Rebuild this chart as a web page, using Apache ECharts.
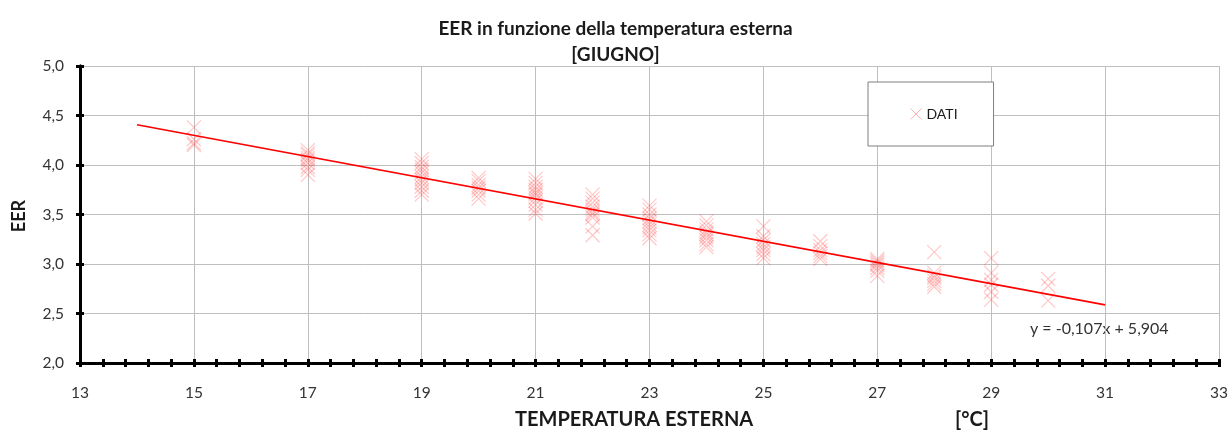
<!DOCTYPE html>
<html>
<head>
<meta charset="utf-8">
<script src="https://cdn.jsdelivr.net/npm/echarts@6/dist/echarts.min.js"></script>
<style>
  html, body { margin: 0; padding: 0; background: #fff; }
  #chart { width: 1231px; height: 432px; }
</style>
</head>
<body>
<div id="chart"></div>
<script>
// Measured EER values grouped by outdoor temperature (°C)
const temps = [15, 17, 19, 20, 21, 22, 23, 24, 25, 26, 27, 28, 29, 30];
const eerByTemp = [
  [4.38, 4.26, 4.22, 4.20],
  [4.15, 4.12, 4.10, 4.07, 4.05, 4.02, 3.98, 3.95, 3.90],
  [4.06, 4.02, 3.98, 3.95, 3.92, 3.88, 3.85, 3.82, 3.78, 3.74, 3.70],
  [3.87, 3.84, 3.80, 3.77, 3.74, 3.70, 3.66],
  [3.86, 3.82, 3.78, 3.75, 3.72, 3.70, 3.67, 3.64, 3.60, 3.55, 3.51],
  [3.70, 3.66, 3.62, 3.58, 3.55, 3.52, 3.50, 3.47, 3.38, 3.29],
  [3.59, 3.55, 3.50, 3.46, 3.43, 3.40, 3.37, 3.34, 3.30, 3.26],
  [3.43, 3.39, 3.35, 3.32, 3.30, 3.27, 3.24, 3.20, 3.17],
  [3.38, 3.28, 3.24, 3.20, 3.17, 3.14, 3.10, 3.06],
  [3.23, 3.18, 3.14, 3.11, 3.08, 3.05],
  [3.05, 3.03, 3.01, 2.99, 2.96, 2.93, 2.88],
  [3.12, 2.91, 2.88, 2.86, 2.83, 2.80, 2.77],
  [3.06, 2.91, 2.84, 2.79, 2.72, 2.64],
  [2.85, 2.78, 2.63]
];

// Linear trend line: y = -0,107x + 5,904, drawn from 14 to 31 °C
const slope = -0.107;
const intercept = 5.904;
const trendRange = [14, 31];

const titleLines = ['EER in funzione della temperatura esterna', '[GIUGNO]'];
const xTitle = 'TEMPERATURA ESTERNA';
const unitLabel = '[°C]';
const yTitle = 'EER';
const seriesName = 'DATI';

const points = [];
temps.forEach((t, i) => eerByTemp[i].forEach(v => points.push([t, v])));
const trend = trendRange.map(x => [x, slope * x + intercept]);
const fmt = n => n.toFixed(3).replace('.', ',');
const equation = 'y = ' + fmt(slope) + 'x + ' + fmt(intercept);

const FONT = 'Lato';
const crossPath = 'path://M0,0L10,10M10,0L0,10';

const chart = echarts.init(document.getElementById('chart'), null, { renderer: 'canvas' });

const xBase = {
  type: 'value', min: 13, max: 33, interval: 2, position: 'bottom',
  axisLine: { show: true, onZero: false, lineStyle: { color: '#000', width: 3 } },
  axisTick: { show: true, length: 4, lineStyle: { color: '#000', width: 3 } },
  minorTick: { show: true, splitNumber: 5, length: 4, lineStyle: { color: '#000', width: 3 } }
};
const yBase = {
  type: 'value', min: 2, max: 5, interval: 0.5, position: 'left',
  axisLine: { show: true, onZero: false, lineStyle: { color: '#000', width: 3 } },
  axisTick: { show: true, length: 4, lineStyle: { color: '#000', width: 3 } }
};

chart.setOption({
  animation: false,
  backgroundColor: '#fff',
  title: {
    text: titleLines.join('\n'),
    left: 'center', top: 11,
    textStyle: { fontFamily: FONT, fontWeight: 'bold', fontSize: 19, lineHeight: 26, color: '#1a1a1a' }
  },
  legend: {
    left: 868, top: 82,
    padding: [25, 36, 25, 42],
    borderColor: '#7f7f7f', borderWidth: 1, backgroundColor: '#fff',
    itemWidth: 11, itemHeight: 11, itemGap: 5,
    icon: crossPath,
    itemStyle: { color: 'transparent', borderColor: 'rgba(255,90,90,0.6)', borderWidth: 1 },
    textStyle: { fontFamily: FONT, fontSize: 14, color: '#1a1a1a' },
    data: [seriesName]
  },
  grid: { left: 80, right: 10, top: 66, bottom: 69, containLabel: false },
  xAxis: [
    Object.assign({}, xBase, {
      axisLabel: { margin: 22, fontFamily: FONT, fontSize: 15.5, color: '#333' },
      splitLine: { show: true, lineStyle: { color: '#bfbfbf', width: 1 } }
    }),
    Object.assign({}, xBase, {
      axisTick: Object.assign({}, xBase.axisTick, { inside: true }),
      axisLabel: { show: false },
      splitLine: { show: false }
    })
  ],
  yAxis: [
    Object.assign({}, yBase, {
      axisLabel: {
        margin: 16, fontFamily: FONT, fontSize: 15.5, color: '#333',
        formatter: v => v.toFixed(1).replace('.', ',')
      },
      splitLine: { show: true, lineStyle: { color: '#bfbfbf', width: 1 } }
    }),
    Object.assign({}, yBase, {
      axisTick: Object.assign({}, yBase.axisTick, { inside: true }),
      axisLabel: { show: false },
      splitLine: { show: false }
    })
  ],
  series: [
    {
      name: seriesName, type: 'scatter',
      xAxisIndex: 0, yAxisIndex: 0,
      symbol: crossPath, symbolSize: 14,
      itemStyle: { color: 'transparent', borderColor: 'rgba(255,40,40,0.33)', borderWidth: 1.2 },
      data: points, z: 2
    },
    {
      name: 'trend', type: 'line',
      xAxisIndex: 0, yAxisIndex: 0,
      showSymbol: false, symbol: 'none',
      lineStyle: { color: '#ff0000', width: 1.6 },
      data: trend, z: 3
    }
  ],
  graphic: [
    {
      type: 'text', left: 515, top: 410,
      style: { text: xTitle, fontFamily: FONT, fontWeight: 'bold', fontSize: 20, fill: '#1a1a1a' }
    },
    {
      type: 'text', left: 955, top: 410,
      style: { text: unitLabel, fontFamily: FONT, fontWeight: 'bold', fontSize: 20, fill: '#1a1a1a' }
    },
    {
      type: 'text', x: 19, y: 216, rotation: Math.PI / 2,
      style: { text: yTitle, fontFamily: FONT, fontWeight: 'bold', fontSize: 18, fill: '#1a1a1a', align: 'center', verticalAlign: 'middle' }
    },
    {
      type: 'text', left: 1030, top: 321,
      style: { text: equation, fontFamily: FONT, fontSize: 16, fill: '#333' }
    }
  ]
});
</script>
</body>
</html>
